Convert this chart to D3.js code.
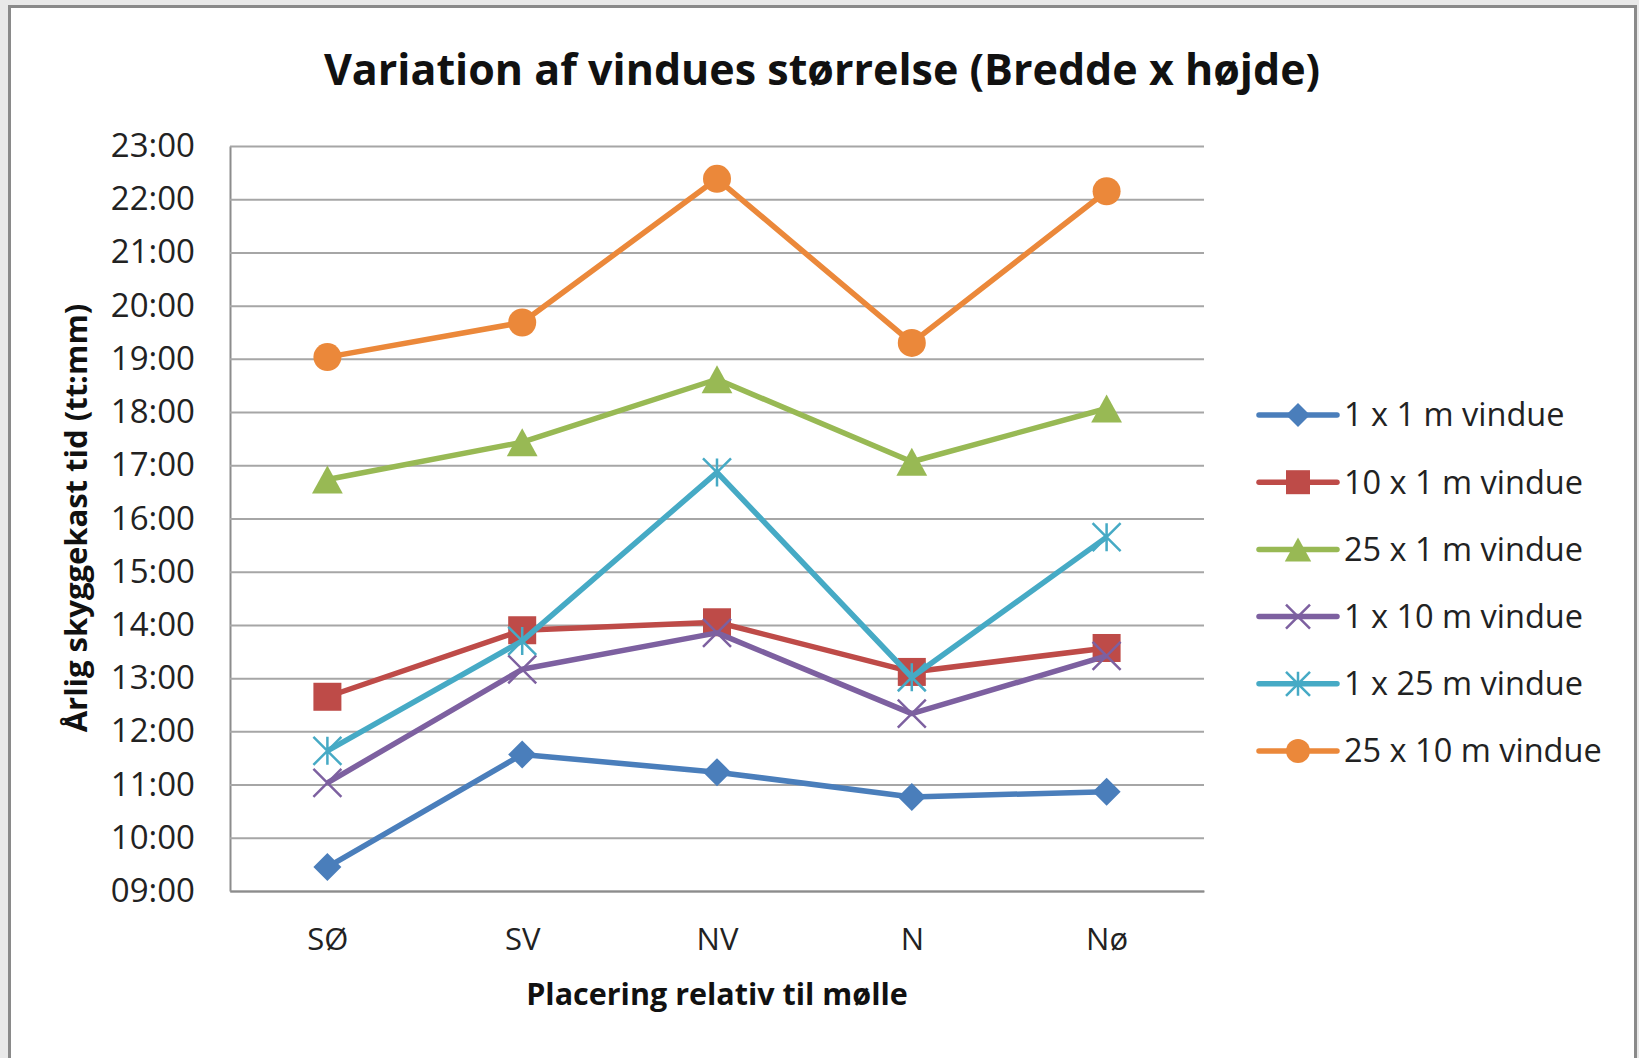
<!DOCTYPE html>
<html>
<head>
<meta charset="utf-8">
<script src="https://cdn.jsdelivr.net/npm/d3@7"></script>
<style>
  html, body { margin: 0; padding: 0; background: #e9e9e9; }
  svg { display: block; }
</style>
</head>
<body>
<svg id="chart" width="1639" height="1058"></svg>
<script>
// placement categories
const categories = ["SØ", "SV", "NV", "N", "Nø"];

// yearly shadow time per window size (tt:mm)
const seriesNames = ["1 x 1 m vindue", "10 x 1 m vindue", "25 x 1 m vindue", "1 x 10 m vindue", "1 x 25 m vindue", "25 x 10 m vindue"];
const win1x1 = ["09:27", "11:34", "11:14", "10:46", "10:52"];
const win10x1 = ["12:39", "13:54", "14:03", "13:07", "13:34"];
const win25x1 = ["16:44", "17:26", "18:37", "17:04", "18:04"];
const win1x10 = ["11:02", "13:10", "13:51", "12:20", "13:25"];
const win1x25 = ["11:38", "13:42", "16:52", "13:01", "15:39"];
const win25x10 = ["19:02", "19:41", "22:23", "19:18", "22:09"];

const yTicks = ["09:00", "10:00", "11:00", "12:00", "13:00", "14:00", "15:00", "16:00",
                "17:00", "18:00", "19:00", "20:00", "21:00", "22:00", "23:00"];

const colors = ["#4A7EBB", "#BE4B48", "#98B954", "#7D60A0", "#46AAC5", "#EB883A"];
const markers = ["diamond", "square", "triangle", "cross", "star", "circle"];

const toHours = s => { const [h, m] = s.split(":").map(Number); return h + m / 60; };

const series = [win1x1, win10x1, win25x1, win1x10, win1x25, win25x10].map((vals, i) => ({
    name: seriesNames[i],
    color: colors[i],
    marker: markers[i],
    values: vals.map((v, j) => ({ cat: categories[j], h: toHours(v) }))
}));

const svg = d3.select("#chart");
const font = "'Open Sans', 'Noto Sans', sans-serif";

// white chart area with grey frame
svg.append("rect")
    .attr("x", 9.5).attr("y", 6.5)
    .attr("width", 1626).attr("height", 1080)
    .attr("fill", "#fff")
    .attr("stroke", "#8a8a8a")
    .attr("stroke-width", 3);

const plot = { left: 230, right: 1204, top: 146, bottom: 891 };

const x = d3.scalePoint()
    .domain(categories)
    .range([plot.left, plot.right])
    .padding(0.5);

const y = d3.scaleLinear()
    .domain([toHours(yTicks[0]), toHours(yTicks[yTicks.length - 1])])
    .range([plot.bottom, plot.top]);

// title
svg.append("text")
    .attr("x", 822).attr("y", 70)
    .attr("dy", "0.35em")
    .attr("text-anchor", "middle")
    .attr("font-family", font)
    .attr("font-weight", "bold")
    .attr("font-size", "43px")
    .attr("fill", "#111")
    .text("Variation af vindues størrelse (Bredde x højde)");

// y axis with gridlines
const yAxis = svg.append("g")
    .attr("transform", `translate(${plot.left},0)`)
    .call(d3.axisLeft(y)
        .tickValues(yTicks.map(toHours))
        .tickFormat((d, i) => yTicks[i])
        .tickSizeInner(-(plot.right - plot.left))
        .tickSizeOuter(0)
        .tickPadding(35));

yAxis.select(".domain")
    .attr("stroke", "#8c8c8c")
    .attr("stroke-width", 2);
yAxis.selectAll(".tick line")
    .attr("stroke", "#a6a6a6")
    .attr("stroke-width", 2);
yAxis.selectAll(".tick text")
    .attr("font-family", font)
    .attr("font-size", "33px")
    .attr("fill", "#222");

// x axis
const xAxis = svg.append("g")
    .attr("transform", `translate(0,${plot.bottom})`)
    .call(d3.axisBottom(x).tickSize(0).tickPadding(0));

xAxis.select(".domain")
    .attr("stroke", "#8c8c8c")
    .attr("stroke-width", 2);
xAxis.selectAll(".tick text")
    .attr("y", 48)
    .attr("dy", "0.35em")
    .attr("font-family", font)
    .attr("font-size", "31px")
    .attr("fill", "#222");

// axis titles
svg.append("text")
    .attr("x", 717).attr("y", 994)
    .attr("dy", "0.35em")
    .attr("text-anchor", "middle")
    .attr("font-family", font)
    .attr("font-weight", "bold")
    .attr("font-size", "30.5px")
    .attr("fill", "#111")
    .text("Placering relativ til mølle");

svg.append("text")
    .attr("transform", "translate(76,518) rotate(-90)")
    .attr("dy", "0.35em")
    .attr("text-anchor", "middle")
    .attr("font-family", font)
    .attr("font-weight", "bold")
    .attr("font-size", "31px")
    .attr("fill", "#111")
    .text("Årlig skyggekast tid (tt:mm)");

// marker drawing
function drawMarker(g, type, color, r) {
    if (type === "diamond") {
        g.append("path").attr("d", `M0,${-r}L${r},0L0,${r}L${-r},0Z`).attr("fill", color);
    } else if (type === "square") {
        g.append("rect").attr("x", -r).attr("y", -r).attr("width", 2 * r).attr("height", 2 * r).attr("fill", color);
    } else if (type === "triangle") {
        g.append("path").attr("d", `M0,${-r}L${r * 1.1},${r}L${-r * 1.1},${r}Z`).attr("fill", color);
    } else if (type === "circle") {
        g.append("circle").attr("r", r).attr("fill", color);
    } else if (type === "cross") {
        g.append("path").attr("d", `M${-r},${-r}L${r},${r}M${-r},${r}L${r},${-r}`)
            .attr("stroke", color).attr("stroke-width", 2.5).attr("fill", "none");
    } else if (type === "star") {
        g.append("path").attr("d", `M${-r},${-r}L${r},${r}M${-r},${r}L${r},${-r}M0,${-r}L0,${r}`)
            .attr("stroke", color).attr("stroke-width", 2.5).attr("fill", "none");
    }
}

const line = d3.line()
    .x(d => x(d.cat))
    .y(d => y(d.h));

const seriesG = svg.append("g")
    .selectAll("g")
    .data(series)
    .join("g");

seriesG.append("path")
    .attr("d", d => line(d.values))
    .attr("fill", "none")
    .attr("stroke", d => d.color)
    .attr("stroke-width", 5.5)
    .attr("stroke-linejoin", "round");

seriesG.each(function (s) {
    d3.select(this).selectAll("g.pt")
        .data(s.values)
        .join("g")
        .attr("class", "pt")
        .attr("transform", d => `translate(${x(d.cat)},${y(d.h)})`)
        .each(function () { drawMarker(d3.select(this), s.marker, s.color, 14); });
});

// legend
const legend = svg.append("g")
    .selectAll("g")
    .data(series)
    .join("g")
    .attr("transform", (d, i) => `translate(1298,${415 + i * 67.2})`);

legend.append("line")
    .attr("x1", -39).attr("x2", 39)
    .attr("stroke", d => d.color)
    .attr("stroke-width", 5.5)
    .attr("stroke-linecap", "round");

legend.each(function (s) { drawMarker(d3.select(this), s.marker, s.color, 12); });

legend.append("text")
    .attr("x", 46)
    .attr("dy", "0.35em")
    .attr("font-family", font)
    .attr("font-size", "32.5px")
    .attr("fill", "#222")
    .text(d => d.name);
</script>
</body>
</html>
